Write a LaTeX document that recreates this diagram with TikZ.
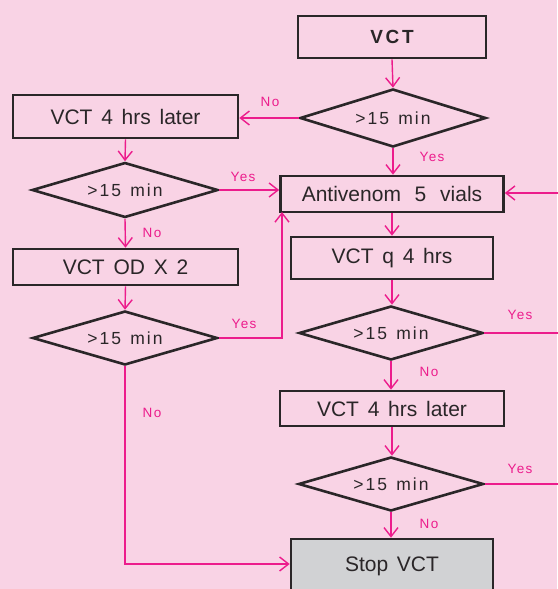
\documentclass[tikz,border=0pt]{standalone}
\usepackage{fontspec}
\setmainfont{Liberation Sans}
\newfontfamily\boxfont[WordSpace=1.5]{Liberation Sans}
\newfontfamily\dfont[LetterSpace=12,WordSpace=1.3]{Liberation Sans}
\newfontfamily\labfont[LetterSpace=10]{Liberation Sans}
\newfontfamily\titlefont[LetterSpace=14]{Liberation Sans}
\usetikzlibrary{shapes.geometric,arrows.meta}
\definecolor{bgpink}{HTML}{F9D3E5}
\definecolor{mag}{HTML}{EC1C8C}
\definecolor{ink}{HTML}{2A2628}
\definecolor{stopgray}{HTML}{D1D2D4}
\tikzset{
  stepbox/.style={draw=ink, line width=2.6pt, rectangle, inner sep=0pt, text=ink,
    font=\boxfont\fontsize{21}{24}\selectfont},
  decide/.style={draw=ink, line width=2.6pt, diamond, inner sep=0pt, shape aspect=3.3, text=ink,
    font=\dfont\fontsize{17.5}{20}\selectfont},
  conn/.style={draw=mag, line width=1.4pt},
  arr/.style={conn, -{Straight Barb[length=9pt,width=14pt,line width=1.4pt]}},
  lab/.style={text=mag, font=\labfont\fontsize{13.5}{15}\selectfont, inner sep=0pt}
}
\begin{document}
\begin{tikzpicture}[x=1pt,y=-1pt]
\fill[bgpink] (0,0) rectangle (557,589);
\useasboundingbox (0,0) rectangle (557,589);

% right column
\node[stepbox, minimum width=188, minimum height=42, font=\titlefont\bfseries\fontsize{19}{22}\selectfont] (vct) at (392,37) {VCT};
\node[decide, minimum width=186, minimum height=58] (d1) at (393,118) {>15 min};
\node[stepbox, minimum width=223, minimum height=36] (av) at (392,194) {Antivenom\hspace{5pt} 5\hspace{5pt} vials};
\node[stepbox, minimum width=202, minimum height=42] (vq) at (392,258) {VCT q 4 hrs};
\node[decide, minimum width=184, minimum height=54] (d3) at (391,333) {>15 min};
\node[stepbox, minimum width=224, minimum height=35] (lb2) at (392,408.5) {VCT 4 hrs later};
\node[decide, minimum width=185, minimum height=54] (d4) at (391,484) {>15 min};
\node[stepbox, fill=stopgray, minimum width=202, minimum height=54] (stop) at (392,566) {Stop VCT};

% left column
\node[stepbox, minimum width=225, minimum height=43] (lb1) at (125.5,116.5) {VCT 4 hrs later};
\node[decide, minimum width=186, minimum height=55] (dl1) at (125,190) {>15 min};
\node[stepbox, minimum width=225, minimum height=36] (od) at (125.5,267) {VCT OD X 2};
\node[decide, minimum width=185, minimum height=54] (dl2) at (125,338) {>15 min};

% off-page coordinates on the right
\coordinate (r1) at (562,193);
\coordinate (r3) at (562,333);
\coordinate (r4) at (562,484);
\coordinate (avin) at (282,212);
\coordinate (stopin) at (stop.west |- 0,564);

% connectors
\draw[arr] (vct.south) -- (d1.north);
\draw[arr] (d1.west) -- (d1.west -| lb1.east);
\draw[arr] (d1.south) -- (d1.south |- av.north);
\draw[arr] (lb1.south) -- (dl1.north);
\draw[arr] (dl1.east) -- (dl1.east -| av.west);
\draw[arr] (dl1.south) -- (od.north);
\draw[arr] (od.south) -- (dl2.north);
\draw[arr] (dl2.east) -| (avin);
\draw[arr] (dl2.south) |- (stopin);
\draw[arr] (av.south) -- (av.south |- vq.north);
\draw[arr] (vq.south) -- (vq.south |- d3.north);
\draw[arr] (d3.south) -- (d3.south |- lb2.north);
\draw[arr] (lb2.south) -- (lb2.south |- d4.north);
\draw[arr] (d4.south) -- (d4.south |- stop.north);
\draw[conn] (d3.east) -- (r3);
\draw[conn] (d4.east) -- (r4);
\draw[arr] (r1) -- (r1 -| av.east);

% labels
\node[lab] (n1) at (270,102) {No};
\node[lab] (y1) at (432,156.5) {Yes};
\node[lab] (y2) at (243,177) {Yes};
\node[lab] (n2) at (152,233) {No};
\node[lab] (y3) at (244,324) {Yes};
\node[lab] (n3) at (152,413) {No};
\node[lab] (n4) at (429,372) {No};
\node[lab] (y4) at (520,315) {Yes};
\node[lab] (y5) at (520,469) {Yes};
\node[lab] (n5) at (429,524) {No};
\end{tikzpicture}
\end{document}
